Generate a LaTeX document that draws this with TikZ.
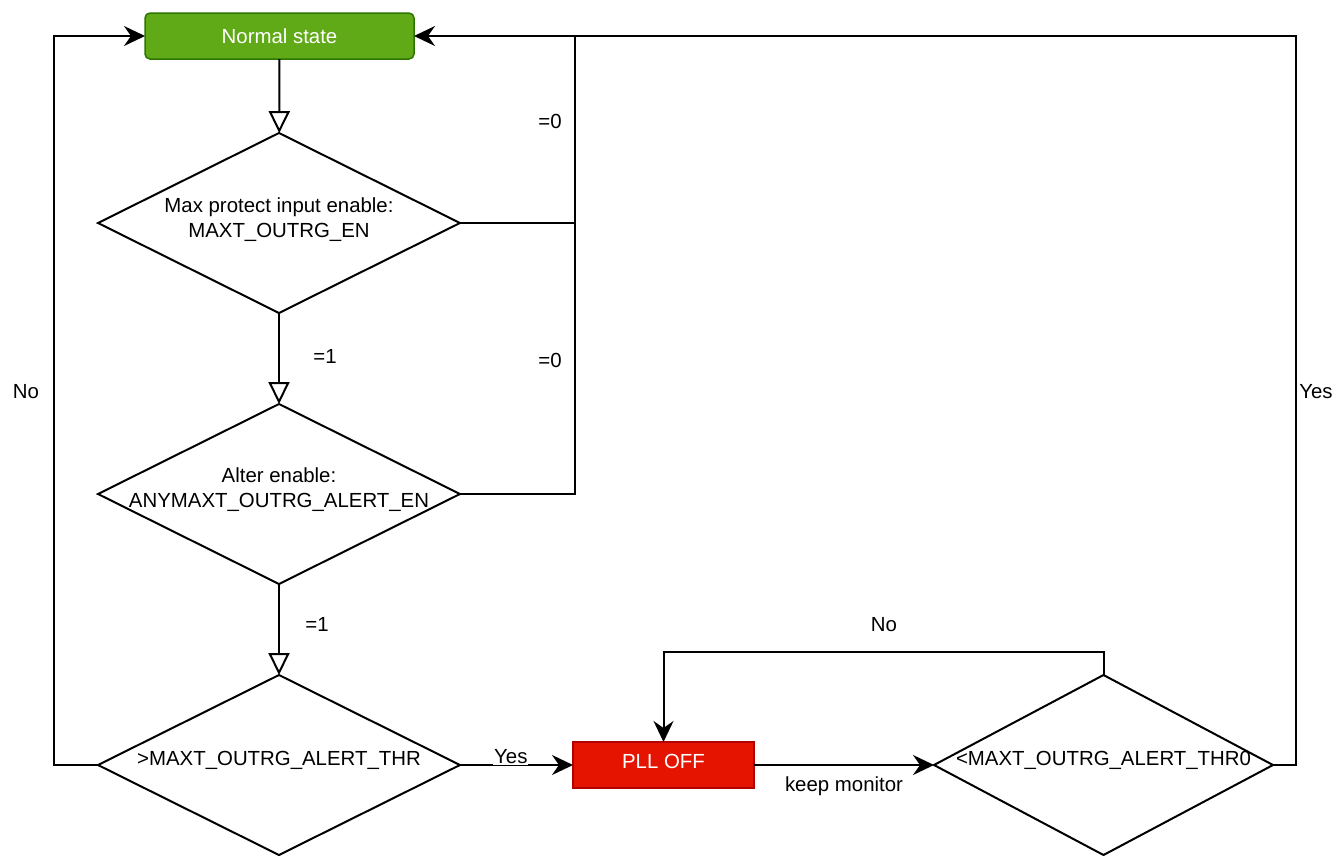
\documentclass[tikz,border=0pt]{standalone}
\usepackage{fontspec}
\setmainfont{Liberation Sans}
\usetikzlibrary{shapes.geometric,arrows.meta}
\definecolor{gfill}{HTML}{60A917}
\definecolor{gline}{HTML}{2D7600}
\definecolor{rfill}{HTML}{E51400}
\definecolor{rline}{HTML}{B20000}
\tikzset{
  dec/.style={shape=diamond, draw, line width=2pt, minimum width=362pt, minimum height=180pt, inner sep=0pt, outer sep=0pt, aspect=2},
  box/.style={draw, line width=1.5pt, inner sep=0pt, outer sep=0pt, text=white},
  line/.style={line width=2pt},
  open/.style={line width=2pt, -{Triangle[open, length=22pt, width=21pt, fill=white]}},
  solid arrow/.style={line width=2pt, -{Stealth[length=21pt, width=20pt, inset=7pt]}},
  lbl/.style={inner sep=1pt, fill=white},
}
\begin{document}
\begin{tikzpicture}[x=1pt, y=-1pt, font=\fontsize{20.4}{25}\selectfont]
\useasboundingbox (0,0) rectangle (1342,855);
\node[box, fill=gfill, draw=gline, rounded corners=5pt, minimum width=269pt, minimum height=46pt] (ns) at (279.5,36) {Normal state};
\node[dec, label={[align=center, yshift=3pt]center:Max protect input enable:\\MAXT\_OUTRG\_EN}] (d1) at (279,223) {};
\node[dec, label={[align=center, yshift=4pt]center:Alter enable:\\ANYMAXT\_OUTRG\_ALERT\_EN}] (d2) at (279,494) {};
\node[dec, label={[yshift=5pt]center:>MAXT\_OUTRG\_ALERT\_THR}] (d3) at (279,765) {};
\node[box, fill=rfill, draw=rline, minimum width=181pt, minimum height=46pt] (pll) at (663.5,765) {\raisebox{7pt}{PLL OFF}};
\node[dec, minimum width=339pt, label={[yshift=5pt]center:<MAXT\_OUTRG\_ALERT\_THR0}] (d4) at (1103.5,765) {};
\coordinate (jA) at (575,36);
\coordinate (jB) at (575,223);
% main chain
\draw[open] (ns) -- (d1);
\draw[open] (d1) -- node[lbl, pos=0.48, xshift=46pt]{=1} (d2);
\draw[open] (d2) -- node[lbl, pos=0.45, xshift=38pt]{=1} (d3);
% =0 returns
\draw[solid arrow] (d1.east) -- (jB) -- (jA) -- (ns.east);
\node[lbl] (z0a) at (550,121) {=0};
\draw[line] (d2.east) -| (jB);
\node[lbl] (z0b) at (550,360) {=0};
% No from d3
\draw[solid arrow] (d3.west) -- ++(-44,0) |- (ns.west);
\node[lbl] (no1) at (26,392) {No};
% Yes to PLL
\draw[solid arrow] (d3.east) -- node[lbl, above=-1pt, pos=0.45]{Yes} (pll.west);
% keep monitor
\draw[solid arrow] (pll.east) -- node[lbl, below=10pt]{keep monitor} (d4.west);
% No loop
\draw[solid arrow] (d4.north) -- ++(0,-23) -| (pll.north);
\node[lbl] (no2) at (884,625) {No};
% Yes back to normal
\draw[line] (d4.east) -- ++(23,0) |- (jA);
\node[lbl] (yes2) at (1316,392) {Yes};
\end{tikzpicture}
\end{document}
